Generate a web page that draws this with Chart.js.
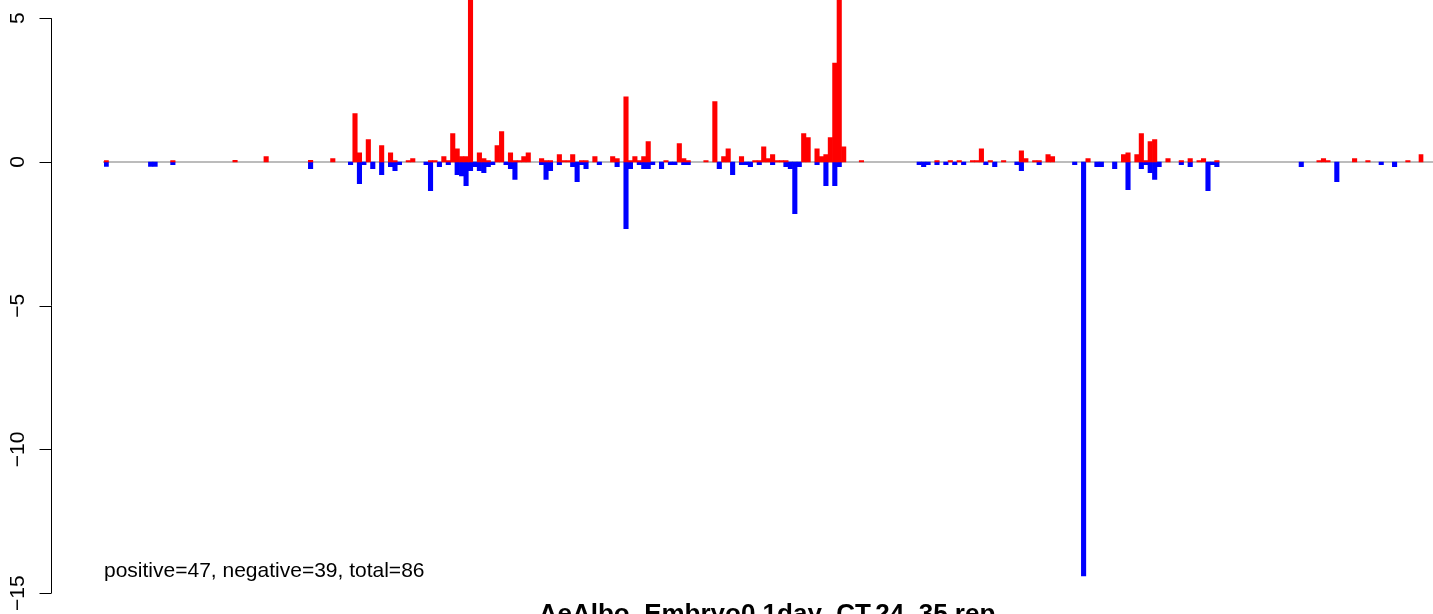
<!DOCTYPE html>
<html>
<head>
<meta charset="utf-8">
<title>AeAlbo_Embryo0.1day_CT.24_35.rep</title>
<script src="https://cdn.jsdelivr.net/npm/chart.js@4.4.0/dist/chart.umd.min.js"></script>
<style>
  html, body { margin: 0; padding: 0; background: #fff; }
  #wrap { width: 1433px; height: 614px; }
</style>
</head>
<body>
<div id="wrap"><canvas id="chart" width="1433" height="614"></canvas></div>
<script>
// number of bins along the x axis
const nBins = 297;

// red bars (positive) : bin index / value
const posBins = [
    0, 15, 29, 36, 46, 51, 56, 57, 59, 62,
    64, 65, 68, 69, 73, 74, 76, 77, 78, 79,
    80, 81, 82, 84, 85, 86, 88, 89, 91, 92,
    93, 94, 95, 98, 99, 100, 102, 103, 104, 105,
    107, 108, 110, 114, 115, 117, 118, 119, 120, 121,
    122, 126, 129, 130, 131, 135, 137, 139, 140, 143,
    146, 147, 148, 149, 150, 151, 152, 153, 157, 158,
    160, 161, 162, 163, 164, 165, 166, 170, 187, 190,
    192, 195, 196, 197, 199, 202, 206, 207, 209, 210,
    212, 213, 221, 229, 230, 232, 233, 234, 235, 236,
    239, 242, 244, 246, 247, 250, 273, 274, 275, 281,
    284, 293, 296
];
const posValues = [
    0.05, 0.05, 0.06, 0.19, 0.06, 0.12, 1.68, 0.32, 0.78, 0.57,
    0.32, 0.05, 0.05, 0.12, 0.05, 0.05, 0.19, 0.05, 0.99, 0.46,
    0.19, 0.19, 7.5, 0.32, 0.12, 0.05, 0.57, 1.06, 0.32, 0.05,
    0.05, 0.19, 0.32, 0.12, 0.05, 0.05, 0.26, 0.05, 0.05, 0.26,
    0.05, 0.05, 0.19, 0.19, 0.12, 2.27, 0.05, 0.19, 0.05, 0.19,
    0.71, 0.05, 0.64, 0.12, 0.05, 0.05, 2.10, 0.19, 0.46, 0.19,
    0.05, 0.05, 0.53, 0.12, 0.26, 0.05, 0.05, 0.05, 0.99, 0.85,
    0.46, 0.19, 0.26, 0.85, 3.44, 6.8, 0.53, 0.05, 0.05, 0.05,
    0.05, 0.05, 0.05, 0.46, 0.05, 0.05, 0.39, 0.12, 0.05, 0.05,
    0.26, 0.19, 0.12, 0.26, 0.32, 0.26, 0.99, 0.05, 0.71, 0.78,
    0.12, 0.05, 0.12, 0.05, 0.12, 0.05, 0.05, 0.12, 0.05, 0.12,
    0.05, 0.05, 0.26
];

// blue bars (negative) : bin index / value
const negBins = [
    0, 10, 11, 15, 46, 55, 57, 58, 60, 62,
    64, 65, 66, 72, 73, 75, 77, 79, 80, 81,
    82, 83, 84, 85, 86, 87, 90, 91, 92, 98,
    99, 100, 102, 105, 106, 107, 108, 111, 115, 117,
    118, 120, 121, 122, 123, 125, 127, 128, 130, 131,
    138, 141, 143, 144, 145, 147, 150, 153, 154, 155,
    156, 160, 162, 164, 165, 183, 184, 185, 187, 189,
    191, 193, 198, 200, 205, 206, 210, 218, 220, 223,
    224, 227, 230, 233, 234, 235, 236, 237, 242, 244,
    248, 249, 250, 269, 277, 287, 290
];
const negValues = [
    -0.15, -0.15, -0.15, -0.09, -0.23, -0.09, -0.75, -0.09, -0.23, -0.44,
    -0.16, -0.30, -0.09, -0.09, -1.0, -0.16, -0.09, -0.44, -0.48, -0.82,
    -0.30, -0.16, -0.30, -0.37, -0.16, -0.09, -0.09, -0.23, -0.61, -0.09,
    -0.61, -0.30, -0.09, -0.16, -0.68, -0.09, -0.23, -0.09, -0.16, -2.32,
    -0.23, -0.09, -0.23, -0.23, -0.09, -0.23, -0.09, -0.09, -0.09, -0.09,
    -0.23, -0.44, -0.09, -0.09, -0.16, -0.09, -0.09, -0.16, -0.23, -1.80,
    -0.16, -0.09, -0.82, -0.82, -0.16, -0.09, -0.16, -0.09, -0.09, -0.09,
    -0.09, -0.09, -0.09, -0.16, -0.09, -0.30, -0.09, -0.09, -14.4, -0.16,
    -0.16, -0.23, -0.96, -0.23, -0.09, -0.37, -0.61, -0.16, -0.09, -0.16,
    -1.0, -0.09, -0.16, -0.16, -0.68, -0.09, -0.16
];

// y axis tick labels
const yTicks = [-15, -10, -5, 0, 5];

const chartTitle = 'AeAlbo_Embryo0.1day_CT.24_35.rep';
const summaryText = 'positive=47, negative=39, total=86';

/**
 * sparse (bin, value) lists -> full array of nBins
 */
function toSeries(bins, values) {
    const out = new Array(nBins).fill(null);
    bins.forEach((b, i) => { out[b] = values[i]; });
    return out;
}

const labels = Array.from({ length: nBins }, (_, i) => String(i + 1));
const font = '"Liberation Sans", Arial, Helvetica, sans-serif';

// R style decorations: zero line, left axis, texts
const rStylePlugin = {
    id: 'rStyle',
    beforeDatasetsDraw(chart) {
        const ctx = chart.ctx;
        const y = chart.scales.y.getPixelForValue(0);
        ctx.save();
        ctx.strokeStyle = '#a6a6a6';
        ctx.lineWidth = 1.5;
        ctx.beginPath();
        ctx.moveTo(chart.chartArea.left - 1, y);
        ctx.lineTo(chart.width, y);
        ctx.stroke();
        ctx.restore();
    },
    afterDraw(chart) {
        const ctx = chart.ctx;
        const yScale = chart.scales.y;
        const area = chart.chartArea;
        // R plot region starts 4% of the bins before the first bar
        const axisX = Math.round(area.left - (area.right - area.left) * 0.04) + 0.5;

        ctx.save();
        ctx.strokeStyle = '#000';
        ctx.lineWidth = 1;
        ctx.beginPath();
        ctx.moveTo(axisX, yScale.getPixelForValue(yTicks[0]));
        ctx.lineTo(axisX, yScale.getPixelForValue(yTicks[yTicks.length - 1]));
        yTicks.forEach(t => {
            const ty = Math.round(yScale.getPixelForValue(t)) + 0.5;
            ctx.moveTo(axisX, ty);
            ctx.lineTo(axisX - 12, ty);
        });
        ctx.stroke();

        // rotated tick labels
        ctx.fillStyle = '#000';
        ctx.font = '21px ' + font;
        ctx.textAlign = 'center';
        ctx.textBaseline = 'alphabetic';
        yTicks.forEach(t => {
            const ty = yScale.getPixelForValue(t);
            ctx.save();
            ctx.translate(axisX - 28, ty);
            ctx.rotate(-Math.PI / 2);
            ctx.fillText(t < 0 ? '\u2212' + Math.abs(t) : String(t), 0, 0);
            ctx.restore();
        });

        // summary text in the lower left
        ctx.textAlign = 'left';
        ctx.fillText(summaryText, area.left, 577);

        // main title (cut by the bottom edge)
        ctx.font = 'bold 26px ' + font;
        ctx.textAlign = 'center';
        ctx.fillText(chartTitle, 767, 622);
        ctx.restore();
    }
};

new Chart(document.getElementById('chart').getContext('2d'), {
    type: 'bar',
    data: {
        labels: labels,
        datasets: [
            {
                label: 'positive',
                data: toSeries(posBins, posValues),
                backgroundColor: '#ff0000',
                borderWidth: 0,
                grouped: false,
                barPercentage: 1,
                categoryPercentage: 1
            },
            {
                label: 'negative',
                data: toSeries(negBins, negValues),
                backgroundColor: '#0000ff',
                borderWidth: 0,
                grouped: false,
                barPercentage: 1,
                categoryPercentage: 1
            }
        ]
    },
    options: {
        responsive: false,
        animation: false,
        devicePixelRatio: 1,
        layout: { padding: { left: 104, right: 9.55, top: 0, bottom: 0 } },
        plugins: {
            legend: { display: false },
            tooltip: { enabled: false },
            title: { display: false }
        },
        scales: {
            x: { display: false, offset: true, grid: { display: false } },
            y: {
                display: false,
                min: -15.722,
                max: 5.635,
                grid: { display: false }
            }
        }
    },
    plugins: [rStylePlugin]
});
</script>
</body>
</html>
